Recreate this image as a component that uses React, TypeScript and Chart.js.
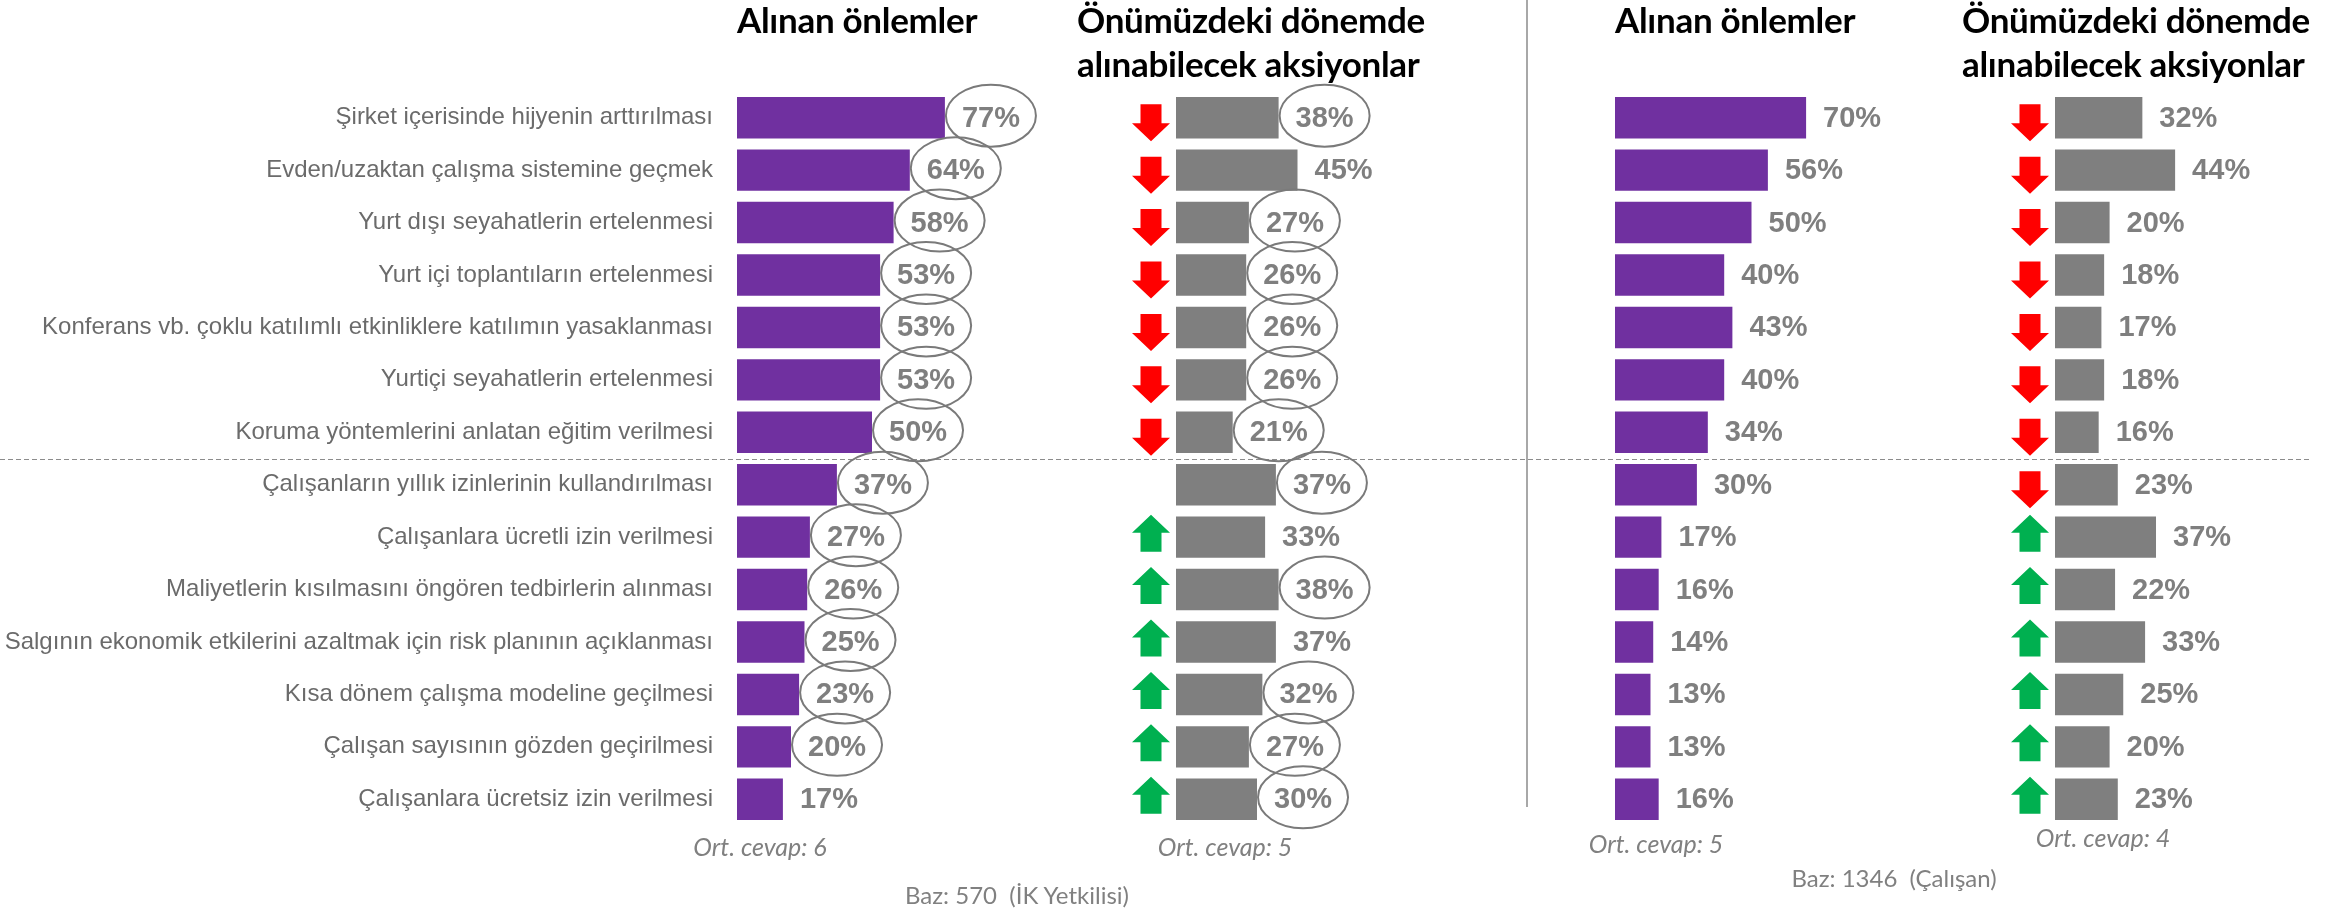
import React, { useEffect, useRef } from "react";
import { Chart, registerables } from "chart.js";

Chart.register(...registerables);

const categories = [
  "Şirket içerisinde hijyenin arttırılması",
  "Evden/uzaktan çalışma sistemine geçmek",
  "Yurt dışı seyahatlerin ertelenmesi",
  "Yurt içi toplantıların ertelenmesi",
  "Konferans vb. çoklu katılımlı etkinliklere katılımın yasaklanması",
  "Yurtiçi seyahatlerin ertelenmesi",
  "Koruma yöntemlerini anlatan eğitim verilmesi",
  "Çalışanların yıllık izinlerinin kullandırılması",
  "Çalışanlara ücretli izin verilmesi",
  "Maliyetlerin kısılmasını öngören tedbirlerin alınması",
  "Salgının ekonomik etkilerini azaltmak için risk planının açıklanması",
  "Kısa dönem çalışma modeline geçilmesi",
  "Çalışan sayısının gözden geçirilmesi",
  "Çalışanlara ücretsiz izin verilmesi",
];

const hrTaken = [77, 64, 58, 53, 53, 53, 50, 37, 27, 26, 25, 23, 20, 17];
const hrNext = [38, 45, 27, 26, 26, 26, 21, 37, 33, 38, 37, 32, 27, 30];
const empTaken = [70, 56, 50, 40, 43, 40, 34, 30, 17, 16, 14, 13, 13, 16];
const empNext = [32, 44, 20, 18, 17, 18, 16, 23, 37, 22, 33, 25, 20, 23];

const hrTakenCircled = [1, 1, 1, 1, 1, 1, 1, 1, 1, 1, 1, 1, 1, 0];
const hrNextCircled = [1, 0, 1, 1, 1, 1, 1, 1, 0, 1, 0, 1, 1, 1];
const noCircles = [0, 0, 0, 0, 0, 0, 0, 0, 0, 0, 0, 0, 0, 0];

const hrTrend = ["down", "down", "down", "down", "down", "down", "down", "none", "up", "up", "up", "up", "up", "up"];
const empTrend = ["down", "down", "down", "down", "down", "down", "down", "down", "up", "up", "up", "up", "up", "up"];

const panelTitleTaken = "Alınan önlemler";
const panelTitleNext = ["Önümüzdeki dönemde", "alınabilecek aksiyonlar"];
const avgNotes = ["Ort. cevap: 6", "Ort. cevap: 5", "Ort. cevap: 5", "Ort. cevap: 4"];
const baseNotes = ["Baz: 570  (İK Yetkilisi)", "Baz: 1346  (Çalışan)"];

const W = 2346;
const H = 908;
const PURPLE = "#7030A0";
const GREY = "#7F7F7F";
const LABEL_GREY = "#7F7F7F";
const SANS = "'Liberation Sans', Arial, sans-serif";
const TITLE_FONT = "Lato, 'Open Sans', sans-serif";

function valueLabelPlugin(circled: number[]) {
  return {
    id: "valueLabels",
    afterDatasetsDraw(chart: any) {
      const ctx = chart.ctx;
      const meta = chart.getDatasetMeta(0);
      const data = chart.data.datasets[0].data;
      ctx.save();
      ctx.font = "bold 29px " + SANS;
      ctx.textBaseline = "middle";
      ctx.textAlign = "left";
      meta.data.forEach((bar: any, i: number) => {
        const txt = data[i] + "%";
        const x = bar.x + 17;
        const w = ctx.measureText(txt).width;
        ctx.fillStyle = LABEL_GREY;
        ctx.fillText(txt, x, bar.y + 1);
        if (circled[i]) {
          ctx.beginPath();
          ctx.ellipse(x + w / 2, bar.y - 2, 45, 31, 0, 0, Math.PI * 2);
          ctx.strokeStyle = "#7a7a7a";
          ctx.lineWidth = 2;
          ctx.stroke();
        }
      });
      ctx.restore();
    },
  };
}

function arrowPlugin(trend: string[]) {
  return {
    id: "trendArrows",
    afterDatasetsDraw(chart: any) {
      const ctx = chart.ctx;
      const meta = chart.getDatasetMeta(0);
      const cx = chart.chartArea.left - 25;
      const hw = 19;
      const sw = 10.5;
      const h = 37;
      const head = 18;
      ctx.save();
      meta.data.forEach((bar: any, i: number) => {
        const dir = trend[i];
        if (dir === "none") return;
        ctx.beginPath();
        if (dir === "down") {
          const top = bar.y + 5 - h / 2;
          ctx.moveTo(cx - sw, top);
          ctx.lineTo(cx + sw, top);
          ctx.lineTo(cx + sw, top + h - head);
          ctx.lineTo(cx + hw, top + h - head);
          ctx.lineTo(cx, top + h);
          ctx.lineTo(cx - hw, top + h - head);
          ctx.lineTo(cx - sw, top + h - head);
          ctx.fillStyle = "#FF0000";
        } else {
          const bottom = bar.y - 4 + h / 2;
          ctx.moveTo(cx - sw, bottom);
          ctx.lineTo(cx + sw, bottom);
          ctx.lineTo(cx + sw, bottom - h + head);
          ctx.lineTo(cx + hw, bottom - h + head);
          ctx.lineTo(cx, bottom - h);
          ctx.lineTo(cx - hw, bottom - h + head);
          ctx.lineTo(cx - sw, bottom - h + head);
          ctx.fillStyle = "#00B050";
        }
        ctx.closePath();
        ctx.fill();
      });
      ctx.restore();
    },
  };
}

const dividerPlugin = {
  id: "groupDivider",
  beforeDatasetsDraw(chart: any) {
    const y = chart.scales.y;
    const py = (y.getPixelForValue(6) + y.getPixelForValue(7)) / 2;
    const ctx = chart.ctx;
    ctx.save();
    ctx.strokeStyle = "#8c8c8c";
    ctx.lineWidth = 1;
    ctx.setLineDash([5, 3]);
    ctx.beginPath();
    ctx.moveTo(0, Math.round(py) + 0.5);
    ctx.lineTo(2312, Math.round(py) + 0.5);
    ctx.stroke();
    ctx.restore();
  },
};

function makeChart(
  canvas: HTMLCanvasElement,
  values: number[],
  color: string,
  left: number,
  right: number,
  showLabels: boolean,
  plugins: any[]
) {
  return new Chart(canvas, {
    type: "bar",
    data: {
      labels: categories,
      datasets: [
        {
          data: values,
          backgroundColor: color,
          borderWidth: 0,
          categoryPercentage: 1,
          barPercentage: 0.79,
        },
      ],
    },
    options: {
      indexAxis: "y",
      responsive: false,
      animation: false,
      devicePixelRatio: 1,
      layout: {
        padding: {
          left: showLabels ? 0 : left,
          right: W - right,
          top: 91.5,
          bottom: H - 825.5,
        },
      },
      plugins: {
        legend: { display: false },
        tooltip: { enabled: false },
        title: { display: false },
      },
      scales: {
        x: {
          display: false,
          min: 0,
          max: 100,
        },
        y: {
          display: showLabels,
          grid: { display: false, drawTicks: false },
          border: { display: false },
          ticks: {
            autoSkip: false,
            padding: 24,
            color: "#6b6b6b",
            font: { family: SANS, size: 24 },
          },
          afterFit: (scale: any) => {
            if (showLabels) scale.width = left;
          },
        },
      },
    } as any,
    plugins,
  });
}

export default function App() {
  const c1 = useRef<HTMLCanvasElement>(null);
  const c2 = useRef<HTMLCanvasElement>(null);
  const c3 = useRef<HTMLCanvasElement>(null);
  const c4 = useRef<HTMLCanvasElement>(null);

  useEffect(() => {
    document.body.style.margin = "0";
    const charts = [
      makeChart(c1.current!, hrTaken, PURPLE, 737, 1007, true, [dividerPlugin, valueLabelPlugin(hrTakenCircled)]),
      makeChart(c2.current!, hrNext, GREY, 1176, 1446, false, [valueLabelPlugin(hrNextCircled), arrowPlugin(hrTrend)]),
      makeChart(c3.current!, empTaken, PURPLE, 1615, 1888, false, [valueLabelPlugin(noCircles)]),
      makeChart(c4.current!, empNext, GREY, 2055, 2328, false, [valueLabelPlugin(noCircles), arrowPlugin(empTrend)]),
    ];
    return () => charts.forEach((c) => c.destroy());
  }, []);

  const canvasStyle: React.CSSProperties = { position: "absolute", left: 0, top: 0 };
  const titleStyle: React.CSSProperties = {
    position: "absolute",
    top: -3,
    fontFamily: TITLE_FONT,
    fontWeight: 700,
    fontSize: 35,
    lineHeight: "44px",
    letterSpacing: "-0.3px",
    color: "#000",
    whiteSpace: "nowrap",
  };
  const noteStyle = (cx: number, cy: number): React.CSSProperties => ({
    position: "absolute",
    left: cx - 200,
    width: 400,
    top: cy - 15,
    height: 30,
    lineHeight: "30px",
    textAlign: "center",
    fontFamily: TITLE_FONT,
    fontStyle: "italic",
    fontSize: 25,
    color: "#808080",
    whiteSpace: "pre",
  });
  const baseStyle = (cx: number, cy: number): React.CSSProperties => ({
    position: "absolute",
    left: cx - 200,
    width: 400,
    top: cy - 15,
    height: 30,
    lineHeight: "30px",
    textAlign: "center",
    fontFamily: TITLE_FONT,
    fontSize: 24,
    color: "#808080",
    whiteSpace: "pre",
  });

  return (
    <div
      style={{
        position: "fixed",
        left: 0,
        top: 0,
        width: W,
        height: H,
        background: "#ffffff",
        overflow: "hidden",
      }}
    >
      <div
        style={{
          position: "absolute",
          left: 1526,
          top: 0,
          width: 2,
          height: 807,
          background: "#a8a8a8",
        }}
      />
      <canvas ref={c1} width={W} height={H} style={canvasStyle} />
      <canvas ref={c2} width={W} height={H} style={canvasStyle} />
      <canvas ref={c3} width={W} height={H} style={canvasStyle} />
      <canvas ref={c4} width={W} height={H} style={canvasStyle} />

      <div style={{ ...titleStyle, left: 737 }}>{panelTitleTaken}</div>
      <div style={{ ...titleStyle, left: 1077 }}>
        {panelTitleNext[0]}
        <br />
        {panelTitleNext[1]}
      </div>
      <div style={{ ...titleStyle, left: 1615 }}>{panelTitleTaken}</div>
      <div style={{ ...titleStyle, left: 1962 }}>
        {panelTitleNext[0]}
        <br />
        {panelTitleNext[1]}
      </div>

      <div style={noteStyle(760, 846)}>{avgNotes[0]}</div>
      <div style={noteStyle(1225, 846)}>{avgNotes[1]}</div>
      <div style={noteStyle(1656, 843)}>{avgNotes[2]}</div>
      <div style={noteStyle(2103, 837)}>{avgNotes[3]}</div>

      <div style={baseStyle(1017, 895)}>{baseNotes[0]}</div>
      <div style={baseStyle(1894, 878)}>{baseNotes[1]}</div>
    </div>
  );
}
